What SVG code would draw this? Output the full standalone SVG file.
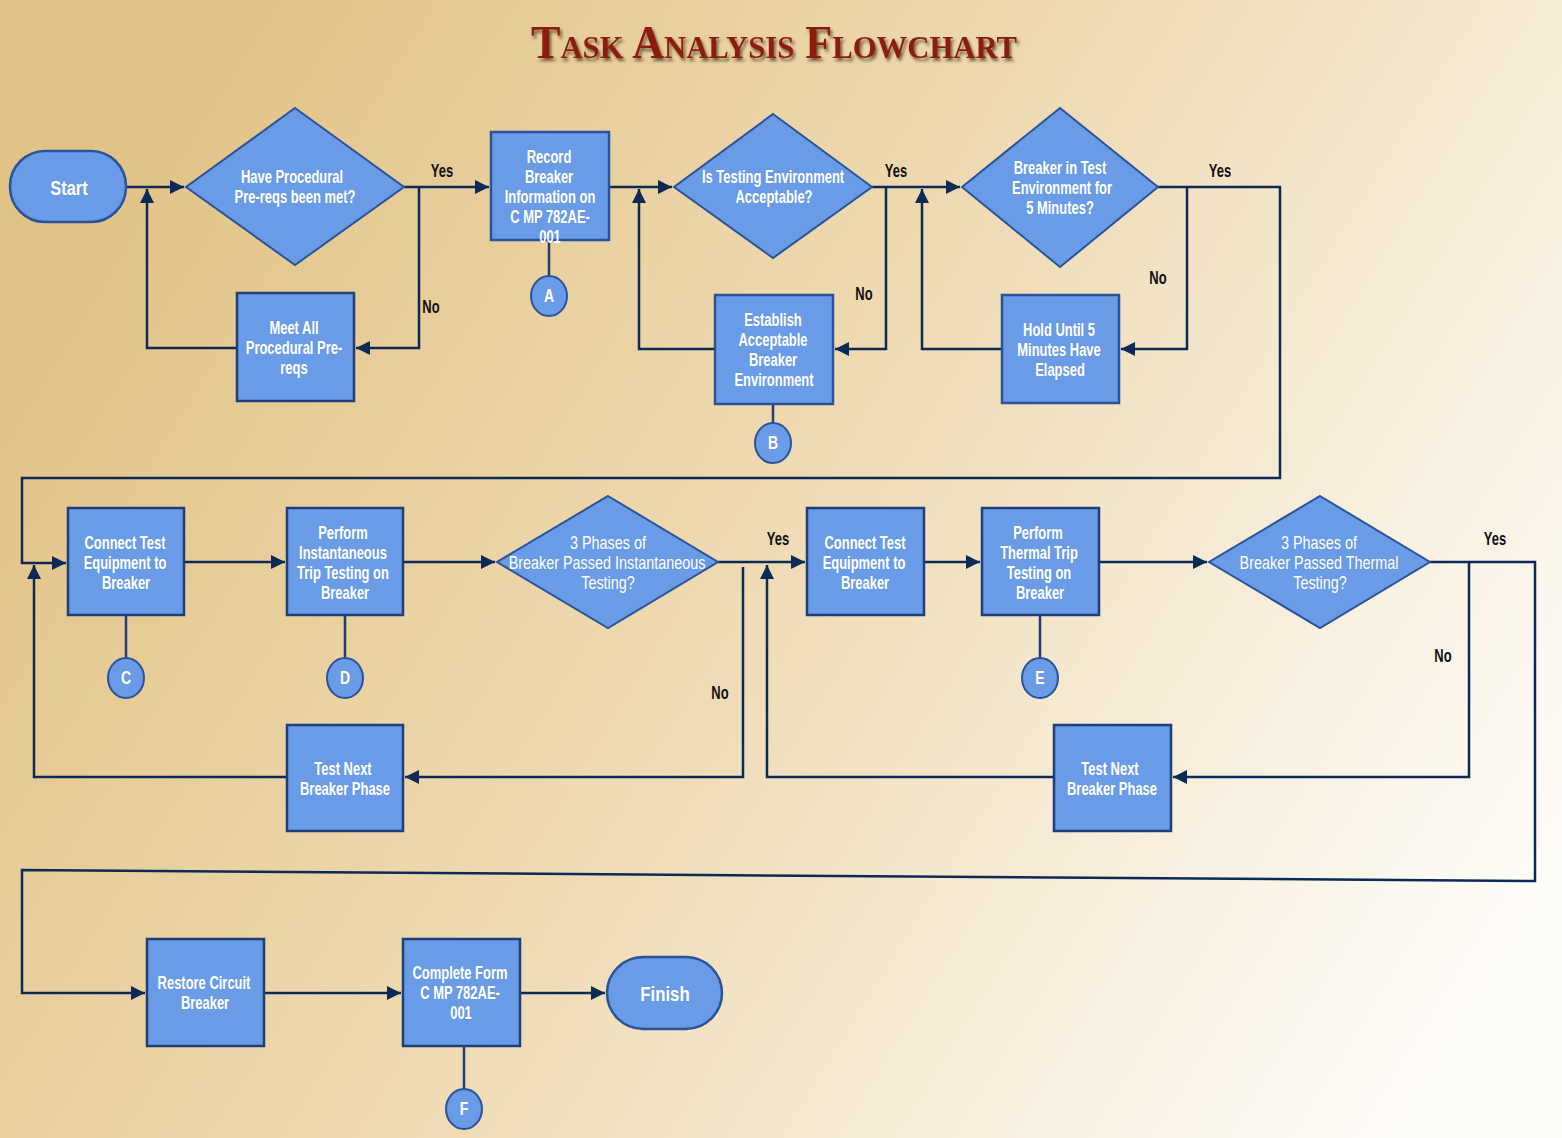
<svg xmlns="http://www.w3.org/2000/svg" width="1562" height="1138" viewBox="0 0 1562 1138">
<defs>
<linearGradient id="bg" x1="0" y1="0.3" x2="1" y2="0.75">
<stop offset="0" stop-color="#e2c387"/>
<stop offset="0.45" stop-color="#eed9b0"/>
<stop offset="0.8" stop-color="#f8f0e0"/>
<stop offset="1" stop-color="#fefcf8"/>
</linearGradient>
<filter id="sh" x="-5%" y="-20%" width="110%" height="150%">
<feDropShadow dx="2" dy="3" stdDeviation="1.5" flood-color="#3a2a10" flood-opacity="0.7"/>
</filter>
<marker id="ah" viewBox="0 0 10 10" refX="10" refY="5" markerWidth="14" markerHeight="15" markerUnits="userSpaceOnUse" orient="auto">
<path d="M0,0 L10,5 L0,10 z" fill="#0c2a55"/>
</marker>
</defs>
<style>
.bx{fill:#6a9be6;stroke:#1f3f78;stroke-width:2.5}
.dm{fill:#6a9be6;stroke:#2a5399;stroke-width:2}
.ci{fill:#6a9be6;stroke:#2a5399;stroke-width:2}
.t{font-family:"Liberation Sans",Arial,sans-serif;font-weight:bold;font-size:18px;fill:#ffffff;text-anchor:middle}
.tl{font-family:"Liberation Sans",Arial,sans-serif;font-size:18px;fill:#ffffff;text-anchor:middle}
.big{font-size:21px}
.lb{font-family:"Liberation Sans",Arial,sans-serif;font-weight:bold;font-size:18px;fill:#111111;text-anchor:middle}
.c{fill:none;stroke:#0c2a55;stroke-width:2.5}
.cl{fill:none;stroke:#1f3f78;stroke-width:2.5}
</style>
<rect x="0" y="0" width="1562" height="1138" fill="url(#bg)"/>
<text x="774" y="58" font-family="Liberation Serif, serif" font-weight="bold" font-size="46" fill="#8c1d10" text-anchor="middle" font-variant="small-caps" textLength="486" lengthAdjust="spacingAndGlyphs" filter="url(#sh)">Task Analysis Flowchart</text>

<g id="connectors">
<path class="c" d="M126,187 H184" marker-end="url(#ah)"/>
<path class="c" d="M404,187 H489" marker-end="url(#ah)"/>
<path class="c" d="M419,187 V348 H356" marker-end="url(#ah)"/>
<path class="c" d="M237,348 H147 V189" marker-end="url(#ah)"/>
<path class="cl" d="M549,240 V277"/>
<path class="c" d="M609,187 H672" marker-end="url(#ah)"/>
<path class="c" d="M872,187 H960" marker-end="url(#ah)"/>
<path class="c" d="M886,187 V349 H835" marker-end="url(#ah)"/>
<path class="c" d="M715,349 H639 V189" marker-end="url(#ah)"/>
<path class="cl" d="M773,404 V424"/>
<path class="c" d="M1187,187 V349 H1121" marker-end="url(#ah)"/>
<path class="c" d="M1002,349 H922 V189" marker-end="url(#ah)"/>
<path class="c" d="M1158,187 H1280 V478 H22 V563 H66" marker-end="url(#ah)"/>
<path class="cl" d="M126,615 V659"/>
<path class="c" d="M184,562 H285" marker-end="url(#ah)"/>
<path class="cl" d="M345,615 V659"/>
<path class="c" d="M403,562 H495" marker-end="url(#ah)"/>
<path class="c" d="M718,562 H805" marker-end="url(#ah)"/>
<path class="c" d="M743,567 V777 H405" marker-end="url(#ah)"/>
<path class="c" d="M287,777 H34 V565" marker-end="url(#ah)"/>
<path class="c" d="M924,562 H980" marker-end="url(#ah)"/>
<path class="cl" d="M1040,615 V659"/>
<path class="c" d="M1099,562 H1207" marker-end="url(#ah)"/>
<path class="c" d="M1469,562 V777 H1173" marker-end="url(#ah)"/>
<path class="c" d="M1054,777 H767 V565" marker-end="url(#ah)"/>
<path class="c" d="M1430,562 H1535 V881 L22,870 V993 H145" marker-end="url(#ah)"/>
<path class="c" d="M264,993 H401" marker-end="url(#ah)"/>
<path class="cl" d="M464,1046 V1090"/>
<path class="c" d="M520,993 H605" marker-end="url(#ah)"/>
<text class="lb" transform="translate(442,177) scale(.72,1)">Yes</text>
<text class="lb" transform="translate(431,313) scale(.72,1)">No</text>
<text class="lb" transform="translate(896,177) scale(.72,1)">Yes</text>
<text class="lb" transform="translate(864,300) scale(.72,1)">No</text>
<text class="lb" transform="translate(1220,177) scale(.72,1)">Yes</text>
<text class="lb" transform="translate(1158,284) scale(.72,1)">No</text>
<text class="lb" transform="translate(778,545) scale(.72,1)">Yes</text>
<text class="lb" transform="translate(720,699) scale(.72,1)">No</text>
<text class="lb" transform="translate(1495,545) scale(.72,1)">Yes</text>
<text class="lb" transform="translate(1443,662) scale(.72,1)">No</text>
</g>

<g id="start">
<rect class="bx" x="10" y="151" width="116" height="71" rx="35" ry="35" style="stroke:#2a5399"/>
<text class="t big" transform="translate(69,195) scale(.78,1)">Start</text>
</g>
<g id="d-prereqs">
<polygon class="dm" points="295,108 404,187 295,265 186,187"/>
<text class="t" transform="translate(292,183) scale(.72,1)">Have Procedural</text>
<text class="t" transform="translate(295,203) scale(.72,1)">Pre-reqs been met?</text>
</g>
<g id="meet-prereqs">
<rect class="bx" x="237" y="293" width="117" height="108"/>
<text class="t" transform="translate(294,334) scale(.72,1)">Meet All</text>
<text class="t" transform="translate(294,354) scale(.72,1)">Procedural Pre-</text>
<text class="t" transform="translate(294,374) scale(.72,1)">reqs</text>
</g>
<g id="record">
<rect class="bx" x="491" y="132" width="118" height="108" style="stroke:#2a5399"/>
<text class="t" transform="translate(549,163) scale(.72,1)">Record</text>
<text class="t" transform="translate(549,183) scale(.72,1)">Breaker</text>
<text class="t" transform="translate(550,203) scale(.72,1)">Information on</text>
<text class="t" transform="translate(550,223) scale(.72,1)">C MP 782AE-</text>
<text class="t" transform="translate(550,243) scale(.72,1)">001</text>
</g>
<g id="conn-a">
<ellipse class="ci" cx="549" cy="296" rx="18" ry="20"/>
<text class="t" transform="translate(549,302) scale(.78,1)">A</text>
</g>
<g id="d-env">
<polygon class="dm" points="773,114 872,187 773,258 674,187"/>
<text class="t" transform="translate(773,183) scale(.72,1)">Is Testing Environment</text>
<text class="t" transform="translate(774,203) scale(.72,1)">Acceptable?</text>
</g>
<g id="establish">
<rect class="bx" x="715" y="295" width="118" height="109" style="stroke:#2a5399"/>
<text class="t" transform="translate(773,326) scale(.72,1)">Establish</text>
<text class="t" transform="translate(773,346) scale(.72,1)">Acceptable</text>
<text class="t" transform="translate(773,366) scale(.72,1)">Breaker</text>
<text class="t" transform="translate(774,386) scale(.72,1)">Environment</text>
</g>
<g id="conn-b">
<ellipse class="ci" cx="773" cy="443" rx="18" ry="20"/>
<text class="t" transform="translate(773,449) scale(.78,1)">B</text>
</g>
<g id="d-5min">
<polygon class="dm" points="1060,108 1158,187 1060,267 962,187"/>
<text class="t" transform="translate(1060,174) scale(.72,1)">Breaker in Test</text>
<text class="t" transform="translate(1062,194) scale(.72,1)">Environment for</text>
<text class="t" transform="translate(1060,214) scale(.72,1)">5 Minutes?</text>
</g>
<g id="hold">
<rect class="bx" x="1002" y="295" width="117" height="108" style="stroke:#2a5399"/>
<text class="t" transform="translate(1059,336) scale(.72,1)">Hold Until 5</text>
<text class="t" transform="translate(1059,356) scale(.72,1)">Minutes Have</text>
<text class="t" transform="translate(1060,376) scale(.72,1)">Elapsed</text>
</g>
<g id="connect1">
<rect class="bx" x="68" y="508" width="116" height="107"/>
<text class="t" transform="translate(125,549) scale(.72,1)">Connect Test</text>
<text class="t" transform="translate(125,569) scale(.72,1)">Equipment to</text>
<text class="t" transform="translate(126,589) scale(.72,1)">Breaker</text>
</g>
<g id="conn-c">
<ellipse class="ci" cx="126" cy="678" rx="18" ry="20"/>
<text class="t" transform="translate(126,684) scale(.78,1)">C</text>
</g>
<g id="perform-inst">
<rect class="bx" x="287" y="508" width="116" height="107"/>
<text class="t" transform="translate(343,539) scale(.72,1)">Perform</text>
<text class="t" transform="translate(343,559) scale(.72,1)">Instantaneous</text>
<text class="t" transform="translate(343,579) scale(.72,1)">Trip Testing on</text>
<text class="t" transform="translate(345,599) scale(.72,1)">Breaker</text>
</g>
<g id="conn-d">
<ellipse class="ci" cx="345" cy="678" rx="18" ry="20"/>
<text class="t" transform="translate(345,684) scale(.78,1)">D</text>
</g>
<g id="d-inst">
<polygon class="dm" points="608,496 718,562 608,628 497,562"/>
<text class="tl" transform="translate(608,549) scale(.8,1)">3 Phases of</text>
<text class="tl" transform="translate(607,569) scale(.8,1)">Breaker Passed Instantaneous</text>
<text class="tl" transform="translate(608,589) scale(.8,1)">Testing?</text>
</g>
<g id="next1">
<rect class="bx" x="287" y="725" width="116" height="106"/>
<text class="t" transform="translate(343,775) scale(.72,1)">Test Next</text>
<text class="t" transform="translate(345,795) scale(.72,1)">Breaker Phase</text>
</g>
<g id="connect2">
<rect class="bx" x="807" y="508" width="117" height="107"/>
<text class="t" transform="translate(865,549) scale(.72,1)">Connect Test</text>
<text class="t" transform="translate(864,569) scale(.72,1)">Equipment to</text>
<text class="t" transform="translate(865,589) scale(.72,1)">Breaker</text>
</g>
<g id="perform-thermal">
<rect class="bx" x="982" y="508" width="117" height="107"/>
<text class="t" transform="translate(1038,539) scale(.72,1)">Perform</text>
<text class="t" transform="translate(1039,559) scale(.72,1)">Thermal Trip</text>
<text class="t" transform="translate(1039,579) scale(.72,1)">Testing on</text>
<text class="t" transform="translate(1040,599) scale(.72,1)">Breaker</text>
</g>
<g id="conn-e">
<ellipse class="ci" cx="1040" cy="678" rx="18" ry="20"/>
<text class="t" transform="translate(1040,684) scale(.78,1)">E</text>
</g>
<g id="d-thermal">
<polygon class="dm" points="1320,496 1430,562 1320,628 1209,562"/>
<text class="tl" transform="translate(1319,549) scale(.8,1)">3 Phases of</text>
<text class="tl" transform="translate(1319,569) scale(.8,1)">Breaker Passed Thermal</text>
<text class="tl" transform="translate(1320,589) scale(.8,1)">Testing?</text>
</g>
<g id="next2">
<rect class="bx" x="1054" y="725" width="117" height="106"/>
<text class="t" transform="translate(1110,775) scale(.72,1)">Test Next</text>
<text class="t" transform="translate(1112,795) scale(.72,1)">Breaker Phase</text>
</g>
<g id="restore">
<rect class="bx" x="147" y="939" width="117" height="107"/>
<text class="t" transform="translate(204,989) scale(.72,1)">Restore Circuit</text>
<text class="t" transform="translate(205,1009) scale(.72,1)">Breaker</text>
</g>
<g id="complete">
<rect class="bx" x="403" y="939" width="117" height="107"/>
<text class="t" transform="translate(460,979) scale(.72,1)">Complete Form</text>
<text class="t" transform="translate(460,999) scale(.72,1)">C MP 782AE-</text>
<text class="t" transform="translate(461,1019) scale(.72,1)">001</text>
</g>
<g id="conn-f">
<ellipse class="ci" cx="464" cy="1109" rx="18" ry="20"/>
<text class="t" transform="translate(464,1115) scale(.78,1)">F</text>
</g>
<g id="finish">
<rect class="bx" x="607" y="957" width="115" height="72" rx="36" ry="36" style="stroke:#2a5399"/>
<text class="t big" transform="translate(665,1001) scale(.8,1)">Finish</text>
</g>
</svg>
